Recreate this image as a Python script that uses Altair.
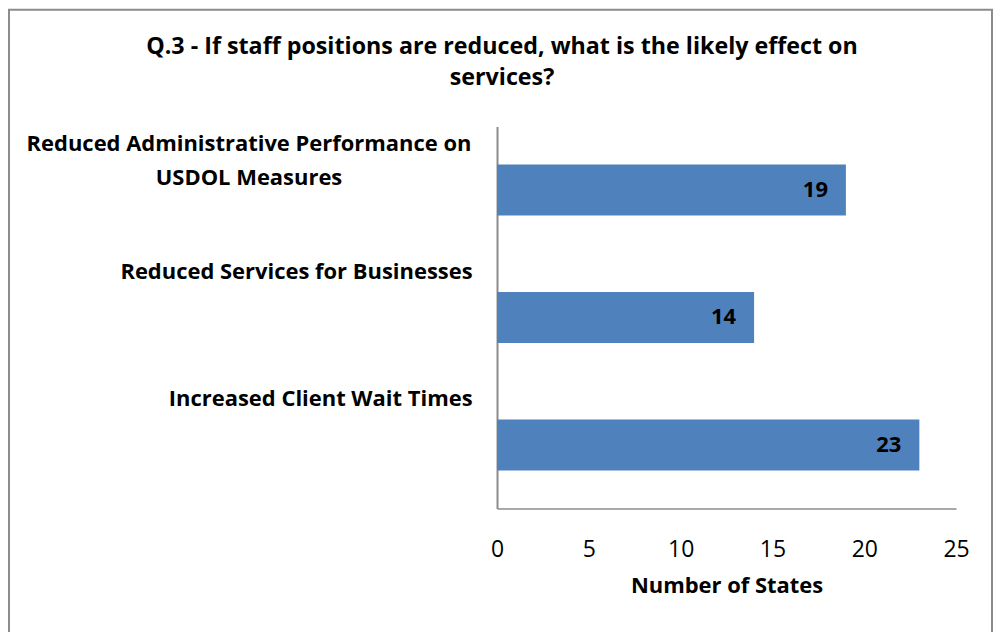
import altair as alt
import pandas as pd

categories = [
    "Reduced Administrative Performance on USDOL Measures",
    "Reduced Services for Businesses",
    "Increased Client Wait Times",
]
values = [19, 14, 23]
x_ticks = [0, 5, 10, 15, 20, 25]
title_lines = [
    "Q.3 - If staff positions are reduced, what is the likely effect on",
    "services?",
]
x_title = "Number of States"

df = pd.DataFrame({"category": categories, "value": values})

FONT = "Open Sans"
long_cat = categories[0]
is_long = "datum.value == '" + long_cat + "'"

y_enc = alt.Y(
    "category:N",
    sort=categories,
    scale=alt.Scale(paddingInner=0.6, paddingOuter=0.3),
    axis=alt.Axis(
        title=None,
        ticks=False,
        domainColor="#8c8c8c",
        domainWidth=2,
        labelFont=FONT,
        labelFontWeight="bold",
        labelFontSize=22,
        labelColor="black",
        labelLimit=1000,
        labelLineHeight=34,
        labelBaseline="top",
        labelOffset=-56,
        labelExpr=is_long + " ? ['Reduced Administrative Performance on', 'USDOL Measures'] : datum.label",
        labelAlign={"condition": {"test": is_long, "value": "center"}, "value": "right"},
        labelPadding={"condition": {"test": is_long, "value": 249}, "value": 25},
    ),
)

x_enc = alt.X(
    "value:Q",
    scale=alt.Scale(domain=[0, 25], nice=False),
    axis=alt.Axis(
        title=x_title,
        values=x_ticks,
        grid=False,
        ticks=False,
        labelFlush=False,
        domainColor="#8c8c8c",
        domainWidth=1.5,
        labelFont=FONT,
        labelFontSize=23,
        labelColor="black",
        labelPadding=30,
        titleFont=FONT,
        titleFontSize=22,
        titleFontWeight="bold",
        titleColor="black",
        titlePadding=14,
    ),
)

bars = alt.Chart(df).mark_bar(color="#4f81bd").encode(x=x_enc, y=y_enc)

labels = alt.Chart(df).mark_text(
    align="right", baseline="middle", dx=-18, dy=0,
    font=FONT, fontSize=22, fontWeight="bold", color="black",
).encode(x="value:Q", y=alt.Y("category:N", sort=categories), text="value:Q")

border = alt.Chart(pd.DataFrame({"b": [0]})).mark_rect(
    fill=None, stroke="#8c8c8c", strokeWidth=2
).encode(
    x=alt.value(-489), x2=alt.value(496), y=alt.value(-117), y2=alt.value(700)
)

title = alt.Chart(pd.DataFrame({"t": [0]})).mark_text(
    align="center", baseline="middle", font=FONT, fontSize=23.3,
    fontWeight="bold", color="black", lineHeight=32,
).encode(x=alt.value(5), y=alt.value(-80), text=alt.value(title_lines))

chart = alt.layer(border, bars, labels, title).properties(
    width=460,
    height=383,
    padding={"left": 490, "top": 118, "right": 37, "bottom": 123},
    autosize=alt.AutoSizeParams(type="none"),
).configure_view(stroke=None)

chart.save("out.html", embed_options={"renderer": "svg", "actions": False})
